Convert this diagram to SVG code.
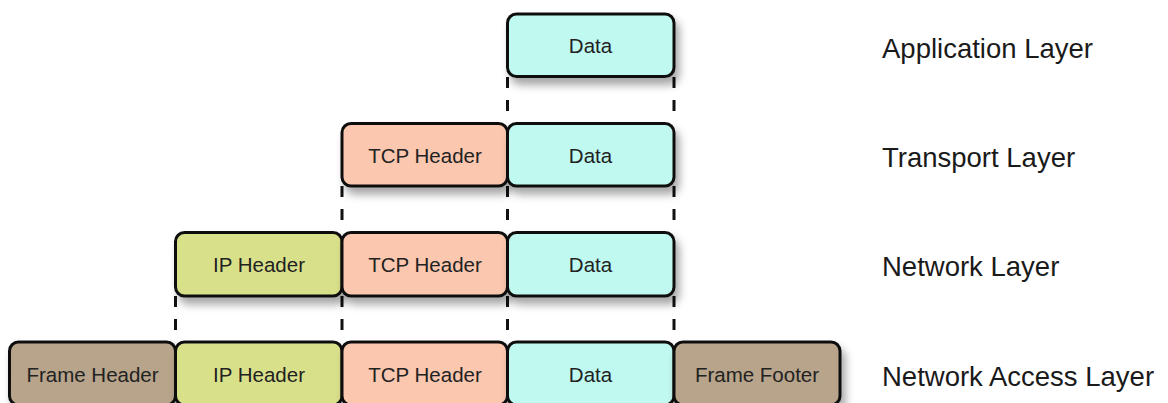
<svg xmlns="http://www.w3.org/2000/svg" width="1168" height="403" viewBox="0 0 1168 403">
  <defs>
    <filter id="shadow" x="-10%" y="-20%" width="130%" height="160%">
      <feDropShadow dx="4" dy="7" stdDeviation="4" flood-color="#000" flood-opacity="0.35"/>
    </filter>
  </defs>
  <style>
    .box { stroke: #111; stroke-width: 3; filter: url(#shadow); }
    .data { fill: #c0f9f0; }
    .tcp { fill: #fbc7ae; }
    .ip { fill: #d9e08a; }
    .frame { fill: #b7a48a; }
    .lbl { font-family: "Liberation Sans", Arial, sans-serif; font-size: 20.5px; fill: #222; text-anchor: middle; }
    .layer { font-family: "Liberation Sans", Arial, sans-serif; font-size: 27.5px; fill: #1a1a1a; }
    .dash { stroke: #111; stroke-width: 3; stroke-dasharray: 11 12; fill: none; }
  </style>
  <rect width="1168" height="403" fill="#fff"/>

  <!-- vertical dashed guides between layers -->
  <g id="connectors">
    <line class="dash" x1="507.5" y1="77" x2="507.5" y2="123"/>
    <line class="dash" x1="674" y1="77" x2="674" y2="123"/>
    <line class="dash" x1="342" y1="186" x2="342" y2="232"/>
    <line class="dash" x1="507.5" y1="186" x2="507.5" y2="232"/>
    <line class="dash" x1="674" y1="186" x2="674" y2="232"/>
    <line class="dash" x1="175.5" y1="296" x2="175.5" y2="342"/>
    <line class="dash" x1="342" y1="296" x2="342" y2="342"/>
    <line class="dash" x1="507.5" y1="296" x2="507.5" y2="342"/>
    <line class="dash" x1="674" y1="296" x2="674" y2="342"/>
  </g>

  <!-- Application layer -->
  <g id="app-data">
    <rect class="box data" x="507.5" y="14" width="166.5" height="62.5" rx="9"/>
    <text class="lbl" x="590.5" y="53">Data</text>
  </g>

  <!-- Transport layer -->
  <g id="tr-tcp">
    <rect class="box tcp" x="342" y="123.5" width="165.5" height="62.5" rx="9"/>
    <text class="lbl" x="425" y="163">TCP Header</text>
  </g>
  <g id="tr-data">
    <rect class="box data" x="507.5" y="123.5" width="166.5" height="62.5" rx="9"/>
    <text class="lbl" x="590.5" y="163">Data</text>
  </g>

  <!-- Network layer -->
  <g id="net-ip">
    <rect class="box ip" x="175.5" y="232.5" width="166.5" height="63.5" rx="9"/>
    <text class="lbl" x="259" y="272">IP Header</text>
  </g>
  <g id="net-tcp">
    <rect class="box tcp" x="342" y="232.5" width="165.5" height="63.5" rx="9"/>
    <text class="lbl" x="425" y="272">TCP Header</text>
  </g>
  <g id="net-data">
    <rect class="box data" x="507.5" y="232.5" width="166.5" height="63.5" rx="9"/>
    <text class="lbl" x="590.5" y="272">Data</text>
  </g>

  <!-- Network access layer -->
  <g id="na-frame-header">
    <rect class="box frame" x="9.5" y="342" width="166" height="63" rx="9"/>
    <text class="lbl" x="92.5" y="382">Frame Header</text>
  </g>
  <g id="na-ip">
    <rect class="box ip" x="175.5" y="342" width="166.5" height="63" rx="9"/>
    <text class="lbl" x="259" y="382">IP Header</text>
  </g>
  <g id="na-tcp">
    <rect class="box tcp" x="342" y="342" width="165.5" height="63" rx="9"/>
    <text class="lbl" x="425" y="382">TCP Header</text>
  </g>
  <g id="na-data">
    <rect class="box data" x="507.5" y="342" width="166.5" height="63" rx="9"/>
    <text class="lbl" x="590.5" y="382">Data</text>
  </g>
  <g id="na-frame-footer">
    <rect class="box frame" x="674" y="342" width="166" height="63" rx="9"/>
    <text class="lbl" x="757" y="382">Frame Footer</text>
  </g>

  <!-- layer names -->
  <g id="layer-labels">
    <text class="layer" x="882" y="58">Application Layer</text>
    <text class="layer" x="882" y="167">Transport Layer</text>
    <text class="layer" x="882" y="276">Network Layer</text>
    <text class="layer" x="882" y="386">Network Access Layer</text>
  </g>
</svg>
